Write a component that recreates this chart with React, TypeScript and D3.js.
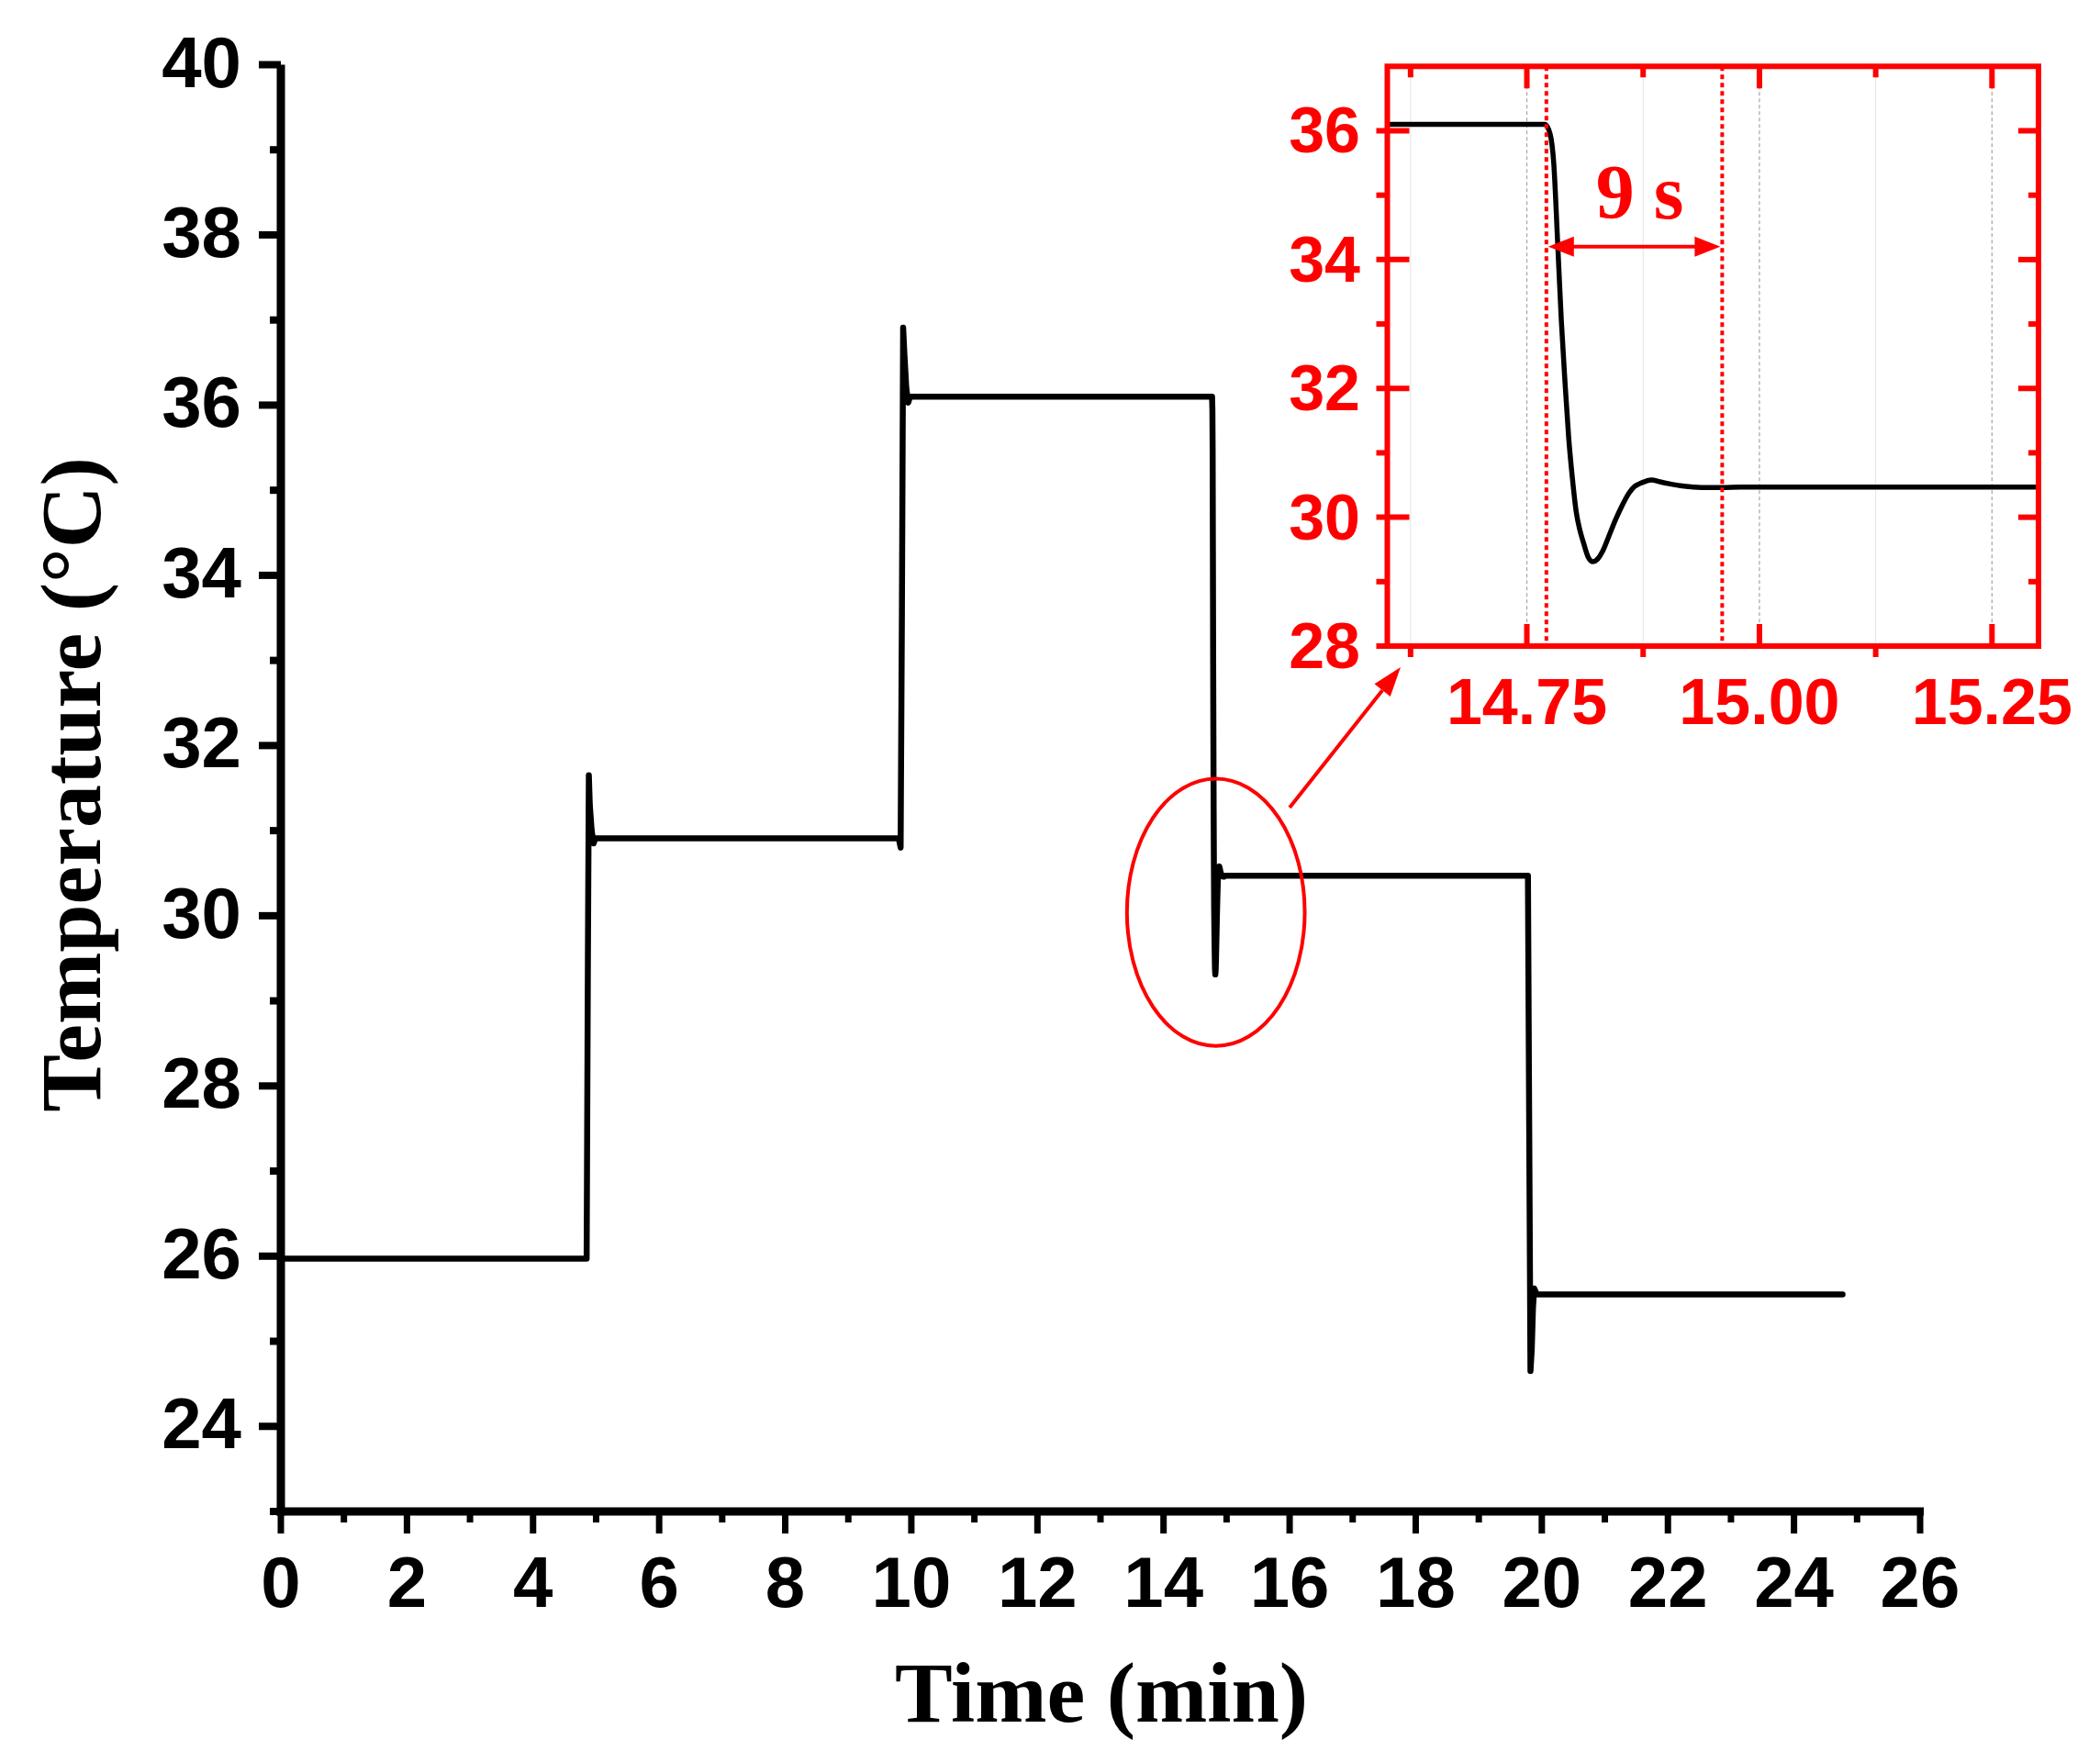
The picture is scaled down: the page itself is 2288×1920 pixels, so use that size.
import React from 'react';
import * as d3 from 'd3';

// ---- data ----
const timeMin = [0, 0, 4.85, 4.87, 4.885, 4.9, 4.93, 4.96, 4.99, 9.8, 9.83, 9.85, 9.87, 9.89, 9.92, 9.95, 9.98,
  14.7695, 14.775, 14.779, 14.783, 14.787, 14.791, 14.795, 14.799, 14.803, 14.807, 14.811, 14.816, 14.821,
  14.826, 14.831, 14.838, 14.845, 14.852, 14.86, 14.866, 14.871, 14.878, 14.884, 14.893, 14.903, 14.915,
  14.929, 14.945, 14.96, 14.98, 19.78, 19.8, 19.82, 19.84, 19.86, 19.88, 19.92, 24.77];
const temperature = [23.1, 25.97, 25.97, 29.5, 31.65, 31.3, 31.0, 30.85, 30.91, 30.91, 30.8, 33.5, 36.91, 36.6, 36.2, 36.03, 36.1,
  36.1, 35.95, 35.48, 34.3, 33.07, 32.1, 31.23, 30.6, 30.09, 29.8, 29.6, 29.38, 29.31,
  29.35, 29.46, 29.7, 29.95, 30.17, 30.38, 30.48, 30.52, 30.56, 30.58, 30.55, 30.52, 30.49,
  30.47, 30.46, 30.46, 30.47, 30.47, 27.5, 24.65, 24.9, 25.4, 25.62, 25.55, 25.55];

const mainXTicks = [0, 2, 4, 6, 8, 10, 12, 14, 16, 18, 20, 22, 24, 26];
const mainXMinor = [1, 3, 5, 7, 9, 11, 13, 15, 17, 19, 21, 23, 25];
const mainYTicks = [24, 26, 28, 30, 32, 34, 36, 38, 40];
const mainYMinor = [23, 25, 27, 29, 31, 33, 35, 37, 39];

const insetXTicks = [14.75, 15.0, 15.25];
const insetXLabels = ['14.75', '15.00', '15.25'];
const insetXMinor = [14.625, 14.875, 15.125];
const insetYTicks = [28, 30, 32, 34, 36];
const insetYMinor = [29, 31, 33, 35];

// annotation values
const responseStart = 14.771;
const responseEnd = 14.96;
const responseArrowTemp = 34.2;
const responseLabel = '9 s';
const ellipseCenter = [14.83, 30.04];
const ellipseHalf = [1.41, 1.57];
const pointerFrom = [16.0, 31.27];
const pointerTo = [17.76, 32.92];

const RED = '#ff0000';
const SANS = '"Liberation Sans", Arial, sans-serif';
const SERIF = '"Liberation Serif", "Times New Roman", serif';

export default function App() {
  const x = d3.scaleLinear().domain([0, 26]).range([306, 2092]);
  const y = d3.scaleLinear().domain([23, 40]).range([1647, 70.5]);

  const ix = d3.scaleLinear().domain([14.6, 15.3]).range([1511.5, 2221]);
  const iy = d3.scaleLinear().domain([28, 37]).range([704, 72.3]);

  const pts = timeMin.map((t, i) => [t, temperature[i]] as [number, number]);
  const mainLine = d3.line<[number, number]>().x(d => x(d[0])).y(d => y(d[1]))(pts) || '';
  const insetPts = pts.filter(p => p[0] >= 9.98 && p[0] <= 19.78);
  const insetLine = d3.line<[number, number]>().x(d => ix(d[0])).y(d => iy(d[1])).curve(d3.curveMonotoneX)(insetPts) || '';

  const [il, ir] = ix.range();
  const it = iy(37), ib = iy(28);

  const arrowY = iy(responseArrowTemp);
  const ax1 = ix(responseStart), ax2 = ix(responseEnd);

  const pFrom = [x(pointerFrom[0]), y(pointerFrom[1])];
  const pTo = [x(pointerTo[0]), y(pointerTo[1])];
  const ang = Math.atan2(pTo[1] - pFrom[1], pTo[0] - pFrom[0]);
  const headLen = 32, headW = 11;
  const hb = [pTo[0] - headLen * Math.cos(ang), pTo[1] - headLen * Math.sin(ang)];
  const hp1 = [hb[0] + headW * Math.sin(ang), hb[1] - headW * Math.cos(ang)];
  const hp2 = [hb[0] - headW * Math.sin(ang), hb[1] + headW * Math.cos(ang)];

  const dh = (tipX: number, dir: number) => {
    const L = 28, W = 11;
    return `M${tipX},${arrowY} L${tipX + dir * L},${arrowY - W} L${tipX + dir * L},${arrowY + W} Z`;
  };

  return (
    <svg width={2288} height={1920} style={{ position: 'absolute', left: 0, top: 0, background: '#fff' }}>
      <rect x={0} y={0} width={2288} height={1920} fill="#fff" />
      <defs>
        <clipPath id="insetClip">
          <rect x={il} y={it} width={ir - il} height={ib - it} />
        </clipPath>
      </defs>

      {/* main data line */}
      <path d={mainLine} fill="none" stroke="#000" strokeWidth={6.5} strokeLinejoin="round" strokeLinecap="round" />

      {/* main axes */}
      <line x1={x(0)} x2={x(0)} y1={y(40)} y2={y(23) + 4.5} stroke="#000" strokeWidth={9} />
      <line x1={x(0) - 4.5} x2={x(26) + 4} y1={y(23)} y2={y(23)} stroke="#000" strokeWidth={9} />
      {mainYTicks.map(v => (
        <g key={'yt' + v}>
          <line x1={x(0) - 24} x2={x(0)} y1={y(v)} y2={y(v)} stroke="#000" strokeWidth={8} />
          <text x={263} y={y(v) + 24} textAnchor="end" fontFamily={SANS} fontWeight="bold" fontSize={78} fill="#000">{v}</text>
        </g>
      ))}
      {mainYMinor.map(v => (
        <line key={'ym' + v} x1={x(0) - 12} x2={x(0)} y1={y(v)} y2={y(v)} stroke="#000" strokeWidth={8} />
      ))}
      {mainXTicks.map(v => (
        <g key={'xt' + v}>
          <line x1={x(v)} x2={x(v)} y1={y(23)} y2={y(23) + 24} stroke="#000" strokeWidth={7} />
          <text x={x(v)} y={1751} textAnchor="middle" fontFamily={SANS} fontWeight="bold" fontSize={78} fill="#000">{v}</text>
        </g>
      ))}
      {mainXMinor.map(v => (
        <line key={'xm' + v} x1={x(v)} x2={x(v)} y1={y(23)} y2={y(23) + 12} stroke="#000" strokeWidth={7} />
      ))}

      {/* axis titles */}
      <text x={1200} y={1876} textAnchor="middle" fontFamily={SERIF} fontWeight="bold" fontSize={94} fill="#000">Time (min)</text>
      <text transform={`translate(109, 855) rotate(-90)`} textAnchor="middle" fontFamily={SERIF} fontWeight="bold" fontSize={94} fill="#000">Temperature (°C)</text>

      {/* ellipse + pointer arrow */}
      <ellipse cx={x(ellipseCenter[0])} cy={y(ellipseCenter[1])}
        rx={x(ellipseCenter[0] + ellipseHalf[0]) - x(ellipseCenter[0])}
        ry={y(ellipseCenter[1] - ellipseHalf[1]) - y(ellipseCenter[1])}
        fill="none" stroke={RED} strokeWidth={4} />
      <line x1={pFrom[0]} y1={pFrom[1]} x2={hb[0]} y2={hb[1]} stroke={RED} strokeWidth={4} />
      <path d={`M${pTo[0]},${pTo[1]} L${hp1[0]},${hp1[1]} L${hp2[0]},${hp2[1]} Z`} fill={RED} />

      {/* ---- inset ---- */}
      {insetXMinor.map(v => (
        <line key={'gm' + v} x1={ix(v)} x2={ix(v)} y1={it} y2={ib} stroke="#e4e4e4" strokeWidth={1} />
      ))}
      {insetXTicks.map(v => (
        <line key={'gM' + v} x1={ix(v)} x2={ix(v)} y1={it} y2={ib} stroke="#aaa" strokeWidth={1.3} strokeDasharray="4,3" />
      ))}
      <path d={insetLine} fill="none" stroke="#000" strokeWidth={5.5} clipPath="url(#insetClip)" strokeLinejoin="round" />

      {/* response-time markers */}
      {[responseStart, responseEnd].map(v => (
        <line key={'rl' + v} x1={ix(v)} x2={ix(v)} y1={it} y2={ib} stroke={RED} strokeWidth={4} strokeDasharray="5,4" />
      ))}
      <line x1={ax1 + 20} x2={ax2 - 20} y1={arrowY} y2={arrowY} stroke={RED} strokeWidth={4} />
      <path d={dh(ax1 + 2, 1)} fill={RED} />
      <path d={dh(ax2 - 2, -1)} fill={RED} />
      <text x={(ax1 + ax2) / 2 + 6} y={238} textAnchor="middle" fontFamily={SERIF} fontWeight="bold" fontSize={84} fill={RED}>{responseLabel}</text>

      {/* inset frame */}
      <rect x={il} y={it} width={ir - il} height={ib - it} fill="none" stroke={RED} strokeWidth={6} />
      {insetYTicks.map(v => (
        <g key={'iyt' + v}>
          <line x1={il - 12} x2={il + 24} y1={iy(v)} y2={iy(v)} stroke={RED} strokeWidth={6} />
          <line x1={ir - 22} x2={ir} y1={iy(v)} y2={iy(v)} stroke={RED} strokeWidth={6} />
          <text x={1482} y={iy(v) + 24} textAnchor="end" fontFamily={SANS} fontWeight="bold" fontSize={70} fill={RED}>{v}</text>
        </g>
      ))}
      {insetYMinor.map(v => (
        <g key={'iym' + v}>
          <line x1={il - 12} x2={il} y1={iy(v)} y2={iy(v)} stroke={RED} strokeWidth={6} />
          <line x1={ir - 11} x2={ir} y1={iy(v)} y2={iy(v)} stroke={RED} strokeWidth={6} />
        </g>
      ))}
      {insetXTicks.map((v, i) => (
        <g key={'ixt' + v}>
          <line x1={ix(v)} x2={ix(v)} y1={ib} y2={ib - 24} stroke={RED} strokeWidth={6} />
          <line x1={ix(v)} x2={ix(v)} y1={it} y2={it + 24} stroke={RED} strokeWidth={6} />
          <text x={ix(v)} y={789} textAnchor="middle" fontFamily={SANS} fontWeight="bold" fontSize={70} fill={RED}>{insetXLabels[i]}</text>
        </g>
      ))}
      {insetXMinor.map(v => (
        <g key={'ixm' + v}>
          <line x1={ix(v)} x2={ix(v)} y1={ib} y2={ib + 12} stroke={RED} strokeWidth={6} />
          <line x1={ix(v)} x2={ix(v)} y1={it} y2={it + 12} stroke={RED} strokeWidth={6} />
        </g>
      ))}
    </svg>
  );
}
